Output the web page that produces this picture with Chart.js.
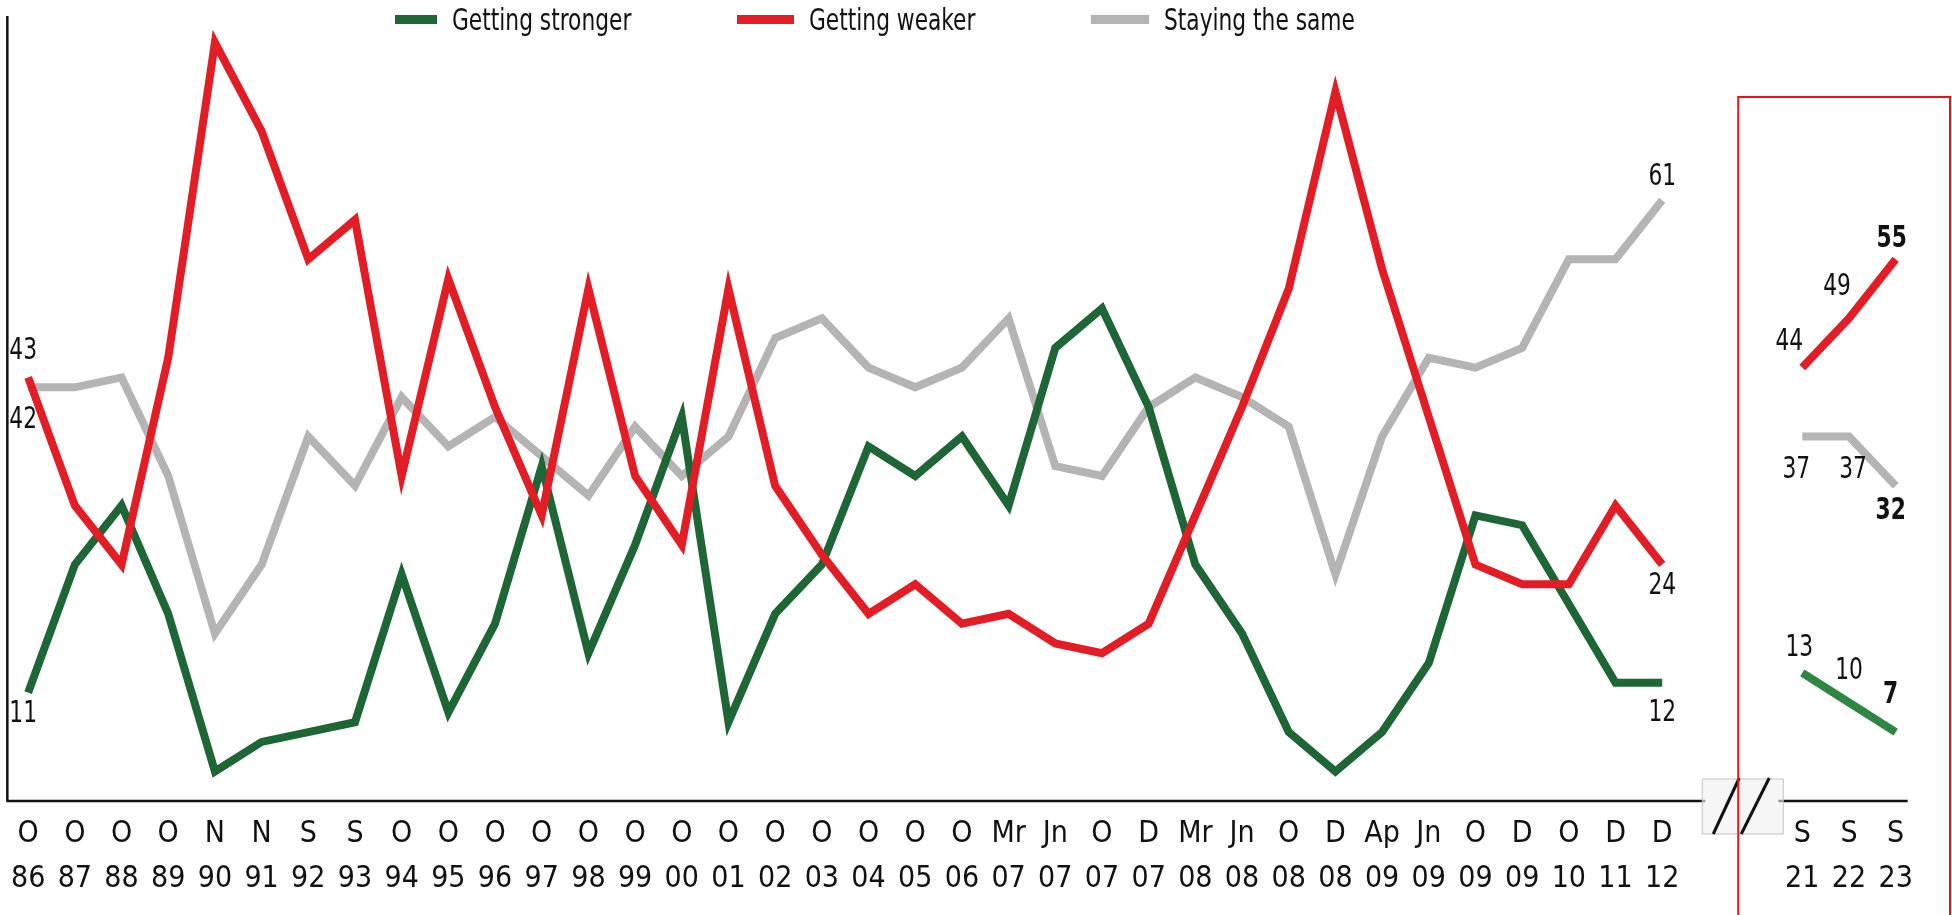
<!DOCTYPE html>
<html>
<head>
<meta charset="utf-8">
<title>Getting stronger / weaker / staying the same</title>
<script src="https://cdn.jsdelivr.net/npm/chart.js@4.4.1/dist/chart.umd.min.js"></script>
<style>
  html, body { margin: 0; padding: 0; background: #fff; }
  canvas { display: block; }
</style>
</head>
<body>
<canvas id="myChart" width="1952" height="915"></canvas>
<script>
// tick labels (two rows: month letter, year)
var months = ['O','O','O','O','N','N','S','S','O','O','O','O','O','O','O','O','O','O','O','O','O','Mr','Jn','O','D','Mr','Jn','O','D','Ap','Jn','O','D','O','D','D','','','S','S','S'];
var years  = ['86','87','88','89','90','91','92','93','94','95','96','97','98','99','00','01','02','03','04','05','06','07','07','07','07','08','08','08','08','09','09','09','09','10','11','12','','','21','22','23'];

// series (null = the break between 2012 and 2021)
var stronger = [11,24,30,19,3,6,7,8,23,9,18,34,15,26,39,8,19,24,36,33,37,30,46,50,40,24,17,7,3,7,14,29,28,20,12,12,null,null,13,10,7];
var weaker   = [43,30,24,45,77,68,55,59,33,53,40,29,52,33,26,52,32,25,19,22,18,19,16,15,18,29,40,52,72,54,39,24,22,22,30,24,null,null,44,49,55];
var same     = [42,42,43,33,17,24,37,32,41,36,39,35,31,38,33,37,47,49,44,42,44,49,34,33,40,43,41,38,23,37,45,44,46,55,55,61,null,null,37,37,32];

var labels = [];
for (var i = 0; i < months.length; i++) {
    labels.push([months[i], years[i]]);
}

var FONT = "'Liberation Sans Narrow', 'DejaVu Sans Condensed', 'Arial Narrow', sans-serif";
var GREEN = '#1e6636';
var GREEN_NEW = '#2e8642';
var RED = '#e31d25';
var GREY = '#b4b4b4';
var SQUEEZE = 0.78; // the original font is a condensed one

// value labels: dataset, index, dx, dy, bold
var valueLabels = [
    [1, 0, -5, -26, false],
    [2, 0, -5, 33, false],
    [0, 0, -5, 21, false],
    [2, 35, 0, -23, false],
    [1, 35, 0, 21, false],
    [0, 35, 0, 30, false],
    [1, 38, -13, -26, false],
    [1, 39, -12, -31, false],
    [1, 40, -4, -20, true],
    [2, 38, -6, 33, false],
    [2, 39, 4, 33, false],
    [2, 40, -5, 25, true],
    [0, 38, -3, -25, false],
    [0, 39, 0, -32, false],
    [0, 40, -5, -37, true]
];

var legendX = [395, 737, 1091];
var legendSwatch = [42, 57, 58];

function narrowText(ctx, text, x, y) {
    ctx.save();
    ctx.translate(x, y);
    ctx.scale(SQUEEZE, 1);
    ctx.fillText(text, 0, 0);
    ctx.restore();
}

var decor = {
    id: 'decor',
    beforeDatasetsDraw: function(chart) {
        var ctx = chart.ctx;
        var xs = chart.scales.x;
        var area = chart.chartArea;
        var mid = (xs.getPixelForValue(36) + xs.getPixelForValue(37)) / 2;
        ctx.save();
        ctx.strokeStyle = '#111';
        ctx.lineWidth = 2.5;
        ctx.beginPath();
        ctx.moveTo(area.left + 2.5, area.top + 3);
        ctx.lineTo(area.left + 2.5, area.bottom);
        ctx.moveTo(area.left + 1.5, area.bottom);
        ctx.lineTo(mid - 27, area.bottom);
        ctx.moveTo(mid + 46, area.bottom);
        ctx.lineTo(xs.getPixelForValue(40) + 12, area.bottom);
        ctx.stroke();
        ctx.restore();
    },
    afterDraw: function(chart) {
        var ctx = chart.ctx;
        var xs = chart.scales.x;
        var area = chart.chartArea;
        var mid = (xs.getPixelForValue(36) + xs.getPixelForValue(37)) / 2;
        ctx.save();

        // break marker
        ctx.fillStyle = 'rgba(240,240,240,0.6)';
        ctx.strokeStyle = '#c4c4c4';
        ctx.lineWidth = 1;
        ctx.fillRect(mid - 30, area.bottom - 22, 81, 55);
        ctx.strokeRect(mid - 30, area.bottom - 22, 81, 55);
        ctx.strokeStyle = '#111';
        ctx.lineWidth = 3;
        ctx.beginPath();
        ctx.moveTo(mid - 19, area.bottom + 33);
        ctx.lineTo(mid + 7, area.bottom - 23);
        ctx.moveTo(mid + 9, area.bottom + 33);
        ctx.lineTo(mid + 37, area.bottom - 23);
        ctx.stroke();

        // red frame round the latest years
        ctx.strokeStyle = '#ee1111';
        ctx.lineWidth = 2;
        ctx.strokeRect(mid + 6, 97, 1950 - (mid + 6), 840);

        // legend
        ctx.font = '31px ' + FONT;
        ctx.textBaseline = 'alphabetic';
        ctx.textAlign = 'left';
        chart.data.datasets.forEach(function(ds, k) {
            ctx.fillStyle = ds.borderColor;
            ctx.fillRect(legendX[k], 15, legendSwatch[k], 9);
            ctx.fillStyle = '#111';
            narrowText(ctx, ds.label, legendX[k] + legendSwatch[k] + 15, 30);
        });

        // value labels
        ctx.textAlign = 'center';
        ctx.textBaseline = 'middle';
        valueLabels.forEach(function(v) {
            var meta = chart.getDatasetMeta(v[0]);
            var pt = meta.data[v[1]];
            var val = chart.data.datasets[v[0]].data[v[1]];
            ctx.font = (v[4] ? 'bold ' : '') + '31px ' + FONT;
            ctx.fillStyle = '#111';
            narrowText(ctx, String(val), pt.x + v[2], pt.y + v[3]);
        });
        ctx.restore();
    }
};

var config = {
    type: 'line',
    data: {
        labels: labels,
        datasets: [
            {
                label: 'Getting stronger',
                data: stronger,
                borderColor: GREEN,
                order: 1,
                segment: {
                    borderColor: function(c) { return c.p0DataIndex >= 38 ? GREEN_NEW : undefined; }
                }
            },
            {
                label: 'Getting weaker',
                data: weaker,
                borderColor: RED,
                order: 0
            },
            {
                label: 'Staying the same',
                data: same,
                borderColor: GREY,
                order: 2
            }
        ]
    },
    options: {
        responsive: false,
        animation: false,
        spanGaps: false,
        layout: { padding: { top: 13, left: 0, right: 33, bottom: 0 } },
        elements: {
            line: { borderWidth: 8, tension: 0, borderJoinStyle: 'miter', fill: false },
            point: { radius: 0, hoverRadius: 0 }
        },
        plugins: {
            legend: { display: false },
            tooltip: { enabled: false }
        },
        scales: {
            x: {
                offset: true,
                grid: { display: false, drawTicks: false },
                border: { display: false },
                ticks: {
                    autoSkip: false,
                    maxRotation: 0,
                    padding: 11,
                    color: '#111',
                    font: { family: FONT, size: 30, lineHeight: 1.5 }
                },
                afterFit: function(scale) { scale.height = 114; }
            },
            y: {
                display: false,
                min: 0,
                max: 80
            }
        }
    },
    plugins: [decor]
};

var myChart = new Chart(document.getElementById('myChart'), config);
</script>
</body>
</html>
